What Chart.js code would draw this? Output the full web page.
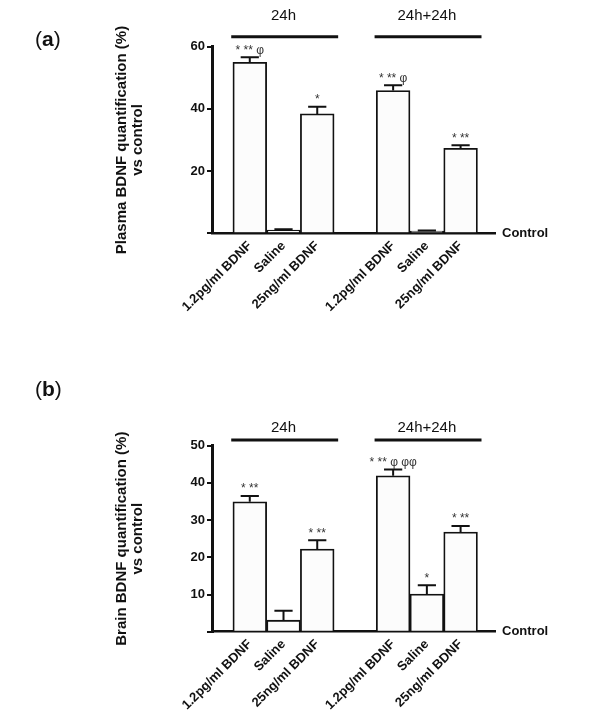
<!DOCTYPE html>
<html>
<head>
<meta charset="utf-8">
<script src="https://cdn.jsdelivr.net/npm/chart.js@4.4.0/dist/chart.umd.min.js"></script>
<style>
  body { margin: 0; background: #fff; }
  .panel { position: absolute; left: 0; width: 608px; height: 361px; }
</style>
</head>
<body>
<div class="panel" style="top:0"><canvas id="plasmaChart" width="608" height="361"></canvas></div>
<div class="panel" style="top:361px"><canvas id="brainChart" width="608" height="361"></canvas></div>
<script>
// bar categories (two time groups of three treatments)
const barLabels = ["1.2pg/ml BDNF", "Saline", "25ng/ml BDNF", "1.2pg/ml BDNF", "Saline", "25ng/ml BDNF"];
const barSlots = [0, 1, 2, 4.25, 5.25, 6.25];
const groupNames = ["24h", "24h+24h"];
const groupMembers = [[0, 1, 2], [3, 4, 5]];

// (a) plasma BDNF, % vs control
const plasmaMeans = [55.0, 1.0, 38.4, 45.9, 0.7, 27.3];
const plasmaErrors = [1.6, 0.3, 2.3, 1.7, 0.2, 1.0];
const plasmaMarks = ["* ** φ", "", "*", "* ** φ", "", "* **"];
const plasmaTicks = [0, 60, 20];

// (b) brain BDNF, % vs control
const brainMeans = [34.9, 3.1, 22.2, 41.9, 10.1, 26.8];
const brainErrors = [1.6, 2.5, 2.4, 1.7, 2.4, 1.6];
const brainMarks = ["* **", "", "* **", "* ** φ φφ", "*", "* **"];
const brainTicks = [0, 50, 10];

const FONT = "'Liberation Sans', Arial, sans-serif";

// error bars, significance marks, group headers and the "Control" label
const decorPlugin = {
  id: "decor",
  afterDatasetsDraw(chart, args, opts) {
    const { ctx, chartArea } = chart;
    const x = chart.scales.x, y = chart.scales.y;
    const bars = chart.getDatasetMeta(0).data;
    ctx.save();
    ctx.strokeStyle = "#111";
    ctx.lineWidth = 2;
    bars.forEach((bar, i) => {
      const top = y.getPixelForValue(opts.means[i] + opts.errors[i]);
      const half = bar.width * 0.27;
      ctx.beginPath();
      ctx.moveTo(bar.x, bar.y);
      ctx.lineTo(bar.x, top);
      ctx.moveTo(bar.x - half, top);
      ctx.lineTo(bar.x + half, top);
      ctx.stroke();
      if (opts.marks[i]) {
        ctx.fillStyle = "#333";
        ctx.font = "12px " + FONT;
        ctx.textAlign = "center";
        ctx.textBaseline = "bottom";
        ctx.fillText(opts.marks[i], bar.x, top - 1);
      }
    });

    // group header lines and names
    groupNames.forEach((name, g) => {
      const ids = groupMembers[g];
      const x0 = x.getPixelForValue(barSlots[ids[0]] - 0.55);
      const x1 = x.getPixelForValue(barSlots[ids[ids.length - 1]] + 0.62);
      const ly = chartArea.top - opts.lineGap;
      ctx.lineWidth = 3;
      ctx.beginPath();
      ctx.moveTo(x0, ly);
      ctx.lineTo(x1, ly);
      ctx.stroke();
      ctx.fillStyle = "#111";
      ctx.font = "15px " + FONT;
      ctx.textAlign = "center";
      ctx.textBaseline = "middle";
      const mid = barSlots[ids[Math.floor(ids.length / 2)]];
      ctx.fillText(name, x.getPixelForValue(mid), ly - opts.nameGap);
    });

    // baseline label
    ctx.font = "bold 13px " + FONT;
    ctx.textAlign = "left";
    ctx.textBaseline = "middle";
    ctx.fillText("Control", chartArea.right + 7, y.getPixelForValue(0));

    // panel letter "(a)" with bold letter
    let px = 35;
    const py = opts.letterY;
    ctx.font = "21px " + FONT;
    ctx.fillText("(", px, py);
    px += ctx.measureText("(").width;
    ctx.font = "bold 21px " + FONT;
    ctx.fillText(opts.letter, px, py);
    px += ctx.measureText(opts.letter).width;
    ctx.font = "21px " + FONT;
    ctx.fillText(")", px, py);
    ctx.restore();
  }
};

function makeChart(id, means, errors, marks, ticks, titleLines, letter, frame) {
  const ctx = document.getElementById(id).getContext("2d");
  return new Chart(ctx, {
    type: "bar",
    data: {
      datasets: [{
        data: barSlots.map((s, i) => ({ x: s, y: means[i] })),
        backgroundColor: "#fcfcfc",
        borderColor: "#111",
        borderWidth: 1.8,
        barPercentage: 1,
        categoryPercentage: 1
      }]
    },
    options: {
      responsive: false,
      animation: false,
      layout: { padding: { left: 0, right: 113, top: frame.top, bottom: 0 } },
      plugins: {
        legend: { display: false },
        tooltip: { enabled: false },
        decor: {
          means: means, errors: errors, marks: marks, letter: letter,
          letterY: frame.letterY, lineGap: frame.lineGap, nameGap: frame.nameGap
        }
      },
      scales: {
        x: {
          type: "linear",
          offset: false,
          min: -1.12,
          max: 7.27,
          afterBuildTicks: (axis) => { axis.ticks = barSlots.map((v) => ({ value: v })); },
          afterFit: (axis) => { axis.height = frame.xHeight; },
          grid: { display: false, drawTicks: false },
          border: { display: true, color: "#111", width: 2.5 },
          ticks: {
            autoSkip: false,
            minRotation: 45,
            maxRotation: 45,
            padding: 5,
            color: "#111",
            font: { family: FONT, size: 13, weight: "bold" },
            callback: (v, i) => barLabels[i]
          }
        },
        y: {
          min: ticks[0],
          max: ticks[1],
          afterFit: (axis) => { axis.width = 212; },
          grid: { display: true, drawOnChartArea: false, drawTicks: true, tickLength: 5, lineWidth: 2, color: "#111" },
          border: { display: true, color: "#111", width: 3 },
          ticks: {
            stepSize: ticks[2],
            padding: 2,
            color: "#111",
            font: { family: FONT, size: 13, weight: "bold" },
            callback: (v) => (v === 0 ? "" : v)
          },
          title: {
            display: true,
            text: titleLines,
            color: "#111",
            font: { family: FONT, size: 15, weight: "bold", lineHeight: 1.07 },
            padding: { top: 114, bottom: 0 }
          }
        }
      }
    },
    plugins: [decorPlugin]
  });
}

makeChart("plasmaChart", plasmaMeans, plasmaErrors, plasmaMarks, plasmaTicks,
  ["Plasma BDNF quantification (%)", "vs control"], "a",
  { top: 46.7, xHeight: 127.7, letterY: 40, lineGap: 10, nameGap: 20.7 });

makeChart("brainChart", brainMeans, brainErrors, brainMarks, brainTicks,
  ["Brain BDNF quantification (%)", "vs control"], "b",
  { top: 84.7, xHeight: 90.3, letterY: 29, lineGap: 5.7, nameGap: 11.7 });
</script>
</body>
</html>
